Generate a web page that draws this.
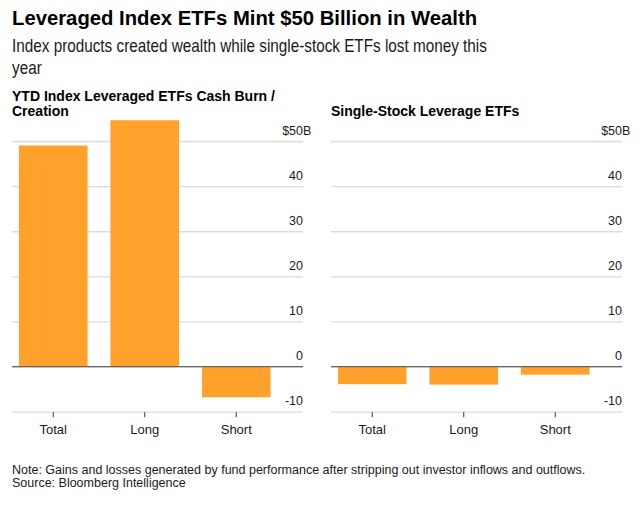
<!DOCTYPE html>
<html>
<head>
<meta charset="utf-8">
<script src="https://cdn.jsdelivr.net/npm/d3@7"></script>
<style>
  body { margin: 0; background: #fff; }
  svg { display: block; font-family: 'Liberation Sans', Arial, sans-serif; }
</style>
</head>
<body>
<div id="chart"></div>
<script>
const categories = ['Total', 'Long', 'Short']
const indexValues = [49, 54.6, -6.8]
const singleStockValues = [-3.9, -4.0, -1.8]
const yTicks = [-10, 0, 10, 20, 30, 40, 50]

const width = 644
const height = 505

const svg = d3
  .select('#chart')
  .append('svg')
  .attr('width', width)
  .attr('height', height)

// headline + subtitle
svg.append('text')
  .attr('x', 12)
  .attr('y', 25.3)
  .attr('font-size', 20.3)
  .attr('font-weight', 'bold')
  .attr('fill', '#000')
  .text('Leveraged Index ETFs Mint $50 Billion in Wealth')

// the original face is narrower than Liberation Sans, so squeeze it a bit
const subLines = ['Index products created wealth while single-stock ETFs lost money this', 'year']
svg.append('g')
  .attr('transform', 'translate(12,0) scale(0.85,1)')
  .selectAll('.sub')
  .data(subLines)
  .enter()
  .append('text')
  .attr('class', 'sub')
  .attr('x', 0)
  .attr('y', (d, i) => 52.3 + i * 21.7)
  .attr('font-size', 18)
  .attr('fill', '#1a1a1a')
  .text(d => d)

const yPositionScale = d3
  .scaleLinear()
  .domain([-10, 50])
  .range([411.7, 141])

function drawPanel(left, titleLines, values) {
  const gridWidth = 291
  const g = svg.append('g').attr('transform', 'translate(' + left + ',0)')

  g.selectAll('.panel-title')
    .data(titleLines)
    .enter()
    .append('text')
    .attr('class', 'panel-title')
    .attr('x', 0)
    .attr('y', (d, i) => 116 - (titleLines.length - 1 - i) * 15)
    .attr('font-size', 14)
    .attr('font-weight', 'bold')
    .attr('fill', '#000')
    .text(d => d)

  const xPositionScale = d3
    .scaleBand()
    .domain(categories)
    .range([-4.5, 270])
    .paddingInner(0.25)
    .paddingOuter(0.125)

  // gridlines + value labels
  const yAxis = d3
    .axisLeft(yPositionScale)
    .tickValues(yTicks)
    .tickSize(gridWidth)
    .tickFormat(d => (d === 50 ? '$50' : d))

  const yg = g.append('g')
    .attr('class', 'axis y-axis')
    .attr('transform', 'translate(' + gridWidth + ',0)')
    .call(yAxis)

  yg.select('.domain').remove()
  yg.selectAll('.tick line')
    .attr('stroke', '#dcdcdc')
    .attr('stroke-width', 1.3)
  yg.selectAll('.tick text')
    .attr('x', 0)
    .attr('dy', -7)
    .attr('font-size', 12.5)
    .attr('font-family', "'Liberation Sans', Arial, sans-serif")
    .attr('fill', '#1a1a1a')
    .attr('text-anchor', 'end')

  yg.selectAll('.tick')
    .filter(d => d === 50)
    .append('text')
    .attr('x', 0)
    .attr('dy', -7)
    .attr('font-size', 12.5)
    .attr('fill', '#1a1a1a')
    .attr('text-anchor', 'start')
    .text('B')

  // bars
  g.selectAll('rect')
    .data(values)
    .enter()
    .append('rect')
    .attr('x', (d, i) => xPositionScale(categories[i]))
    .attr('width', xPositionScale.bandwidth())
    .attr('y', d => yPositionScale(Math.max(0, d)))
    .attr('height', d => Math.abs(yPositionScale(d) - yPositionScale(0)))
    .attr('fill', '#ffa12b')

  // zero line on top
  g.append('line')
    .attr('x1', 0)
    .attr('x2', gridWidth)
    .attr('y1', yPositionScale(0))
    .attr('y2', yPositionScale(0))
    .attr('stroke', '#666')
    .attr('stroke-width', 1.2)

  // category axis
  const xAxis = d3
    .axisBottom(xPositionScale)
    .tickSize(5)
    .tickPadding(8)

  const xg = g.append('g')
    .attr('class', 'axis x-axis')
    .attr('transform', 'translate(0,' + (yPositionScale(-10) + 0.5) + ')')
    .call(xAxis)

  xg.select('.domain').remove()
  xg.selectAll('.tick line').attr('stroke', '#333')
  xg.selectAll('.tick text')
    .attr('font-size', 13)
    .attr('font-family', "'Liberation Sans', Arial, sans-serif")
    .attr('fill', '#1a1a1a')
}

drawPanel(12, ['YTD Index Leveraged ETFs Cash Burn /', 'Creation'], indexValues)
drawPanel(331, ['Single-Stock Leverage ETFs'], singleStockValues)

// footer
const footLines = [
  'Note: Gains and losses generated by fund performance after stripping out investor inflows and outflows.',
  'Source: Bloomberg Intelligence'
]
svg.selectAll('.foot')
  .data(footLines)
  .enter()
  .append('text')
  .attr('class', 'foot')
  .attr('x', 12)
  .attr('y', (d, i) => 474 + i * 13.3)
  .attr('font-size', 12.5)
  .attr('fill', '#1a1a1a')
  .text(d => d)
</script>
</body>
</html>
